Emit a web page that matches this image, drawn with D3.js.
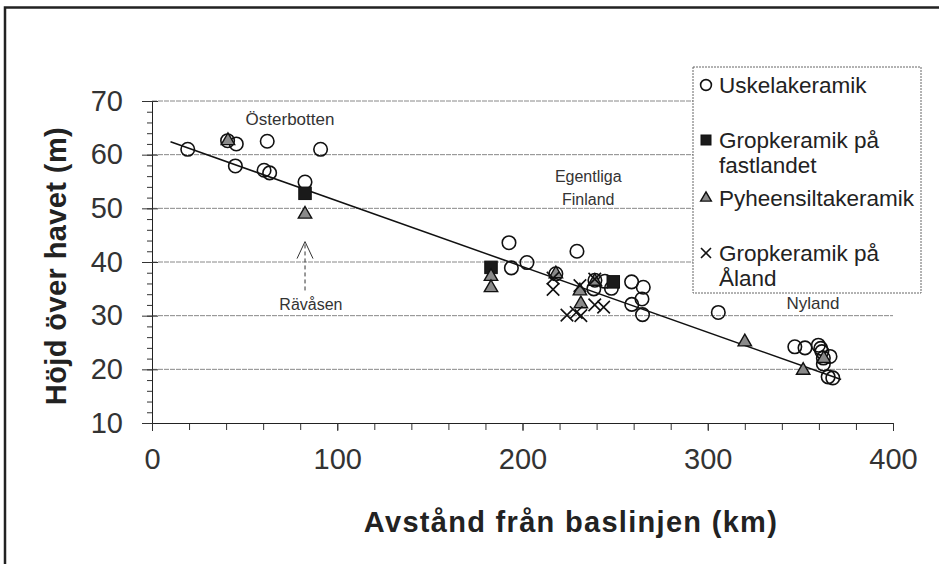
<!DOCTYPE html>
<html>
<head>
<meta charset="utf-8">
<script src="https://cdn.jsdelivr.net/npm/d3@7"></script>
<style>
  body { margin: 0; background: #fff; }
  text { font-family: "Liberation Sans", Arial, sans-serif; }
</style>
</head>
<body>
<div id="chart"></div>
<script>
// series: [avstånd km, höjd m]
var uskelaPoints = [
    [19.3, 61.0], [40.8, 62.6], [45.5, 62.0], [62.2, 62.5], [91, 61.0],
    [45, 57.9], [60.5, 57.1], [63.5, 56.6], [82.6, 54.9],
    [192.7, 43.6], [229.4, 42.0], [194, 38.9], [202.4, 39.9], [218, 37.8],
    [239.1, 36.6], [238.5, 35.0], [244.5, 36.4], [248, 35.1], [258.9, 36.3],
    [265.2, 35.3], [264.5, 33.1], [259, 32.1], [264.8, 30.2],
    [305.7, 30.6], [347, 24.2], [352.5, 24.0], [359.7, 24.5], [361, 23.9],
    [361.6, 23.3], [366, 22.4], [362.4, 22.1], [362.4, 21.0], [367.5, 18.4], [365, 18.6]
]
var gropFastlandPoints = [[82.6, 52.8], [183, 39.0], [249, 36.3]]
var pyheenPoints = [
    [41, 62.6], [82.6, 48.9], [183, 37.3], [183, 35.2], [218, 37.8], [231, 34.6],
    [231.5, 32.2], [239, 36.4], [320, 25.1], [351.5, 19.8], [362.6, 22.0]
]
var gropAlandPoints = [
    [216.5, 37.0], [216.5, 34.9], [231, 35.6], [224, 30.1], [229, 30.6],
    [231.5, 30.0], [239, 32.0], [243.8, 31.6], [239, 36.8]
]
var trendX = [10, 372]
var trendY = [62.4, 18.1]

var xTicks = [0, 100, 200, 300, 400]
var yTicks = [10, 20, 30, 40, 50, 60, 70]
var gridValues = [20, 30, 40, 50, 60, 70]

var legendLines = [
    { type: "circle", lines: ["Uskelakeramik"] },
    { type: "square", lines: ["Gropkeramik på", "fastlandet"] },
    { type: "triangle", lines: ["Pyheensiltakeramik"] },
    { type: "cross", lines: ["Gropkeramik på", "Åland"] }
]
var regionLabels = [
    { text: "Österbotten", x: 74.5, y: 65.5, anchor: "middle", size: 17 },
    { text: "Egentliga", x: 235.5, y: 54.9, anchor: "middle", size: 16 },
    { text: "Finland", x: 235.5, y: 50.6, anchor: "middle", size: 16 },
    { text: "Nyland", x: 356.8, y: 31.3, anchor: "middle", size: 17 },
    { text: "Rävåsen", x: 85.8, y: 31.05, anchor: "middle", size: 16 }
]
var arrowX = 82.6
var arrowY = [34.7, 43.8]

var svg = d3.select("#chart")
    .append("svg")
    .attr("width", 939)
    .attr("height", 564)

var x = d3.scaleLinear().domain([0, 400]).range([152, 893])
var y = d3.scaleLinear().domain([10, 70]).range([423, 101])

// outer frame
svg.append("path")
    .attr("d", "M5,570 L5,7.5 L945,7.5")
    .style("fill", "none")
    .style("stroke", "#222")
    .style("stroke-width", 2.5)

// grid
svg.append("g").selectAll("line")
    .data(gridValues)
    .enter()
    .append("line")
    .attr("x1", x(0))
    .attr("x2", x(400))
    .attr("y1", function (d) { return y(d) })
    .attr("y2", function (d) { return y(d) })
    .style("stroke", "#888")
    .style("stroke-dasharray", "5,1")

// y axis
var yAxisMinor = d3.axisLeft(y).ticks(30).tickSize(5).tickFormat("")
svg.append("g").attr("transform", "translate(152,0)").call(yAxisMinor)
var yAxis = d3.axisLeft(y).tickValues(yTicks).tickSize(10).tickPadding(19)
var yG = svg.append("g").attr("transform", "translate(152,0)").call(yAxis)
yG.selectAll(".tick line").attr("x2", -10).attr("x1", 6)
yG.selectAll("text")
    .style("font-size", "29px")
    .style("font-family", "Liberation Sans, Arial, sans-serif")
    .style("fill", "#333")

// x axis
var xAxisMinor = d3.axisBottom(x).ticks(20).tickSize(7).tickFormat("")
svg.append("g").attr("transform", "translate(0,423)").call(xAxisMinor)
var xAxis = d3.axisBottom(x).tickValues(xTicks).tickSize(8).tickPadding(17)
var xG = svg.append("g").attr("transform", "translate(0,423)").call(xAxis)
xG.selectAll("text")
    .style("font-size", "29px")
    .style("font-family", "Liberation Sans, Arial, sans-serif")
    .style("fill", "#333")

svg.selectAll(".domain").style("stroke", "#222")
svg.selectAll(".tick line").style("stroke", "#333")

// axis titles
svg.append("text")
    .attr("transform", "translate(66,266) rotate(-90)")
    .attr("text-anchor", "middle")
    .style("font-size", "29px")
    .style("font-weight", "bold")
    .style("letter-spacing", "0.4px")
    .style("fill", "#222")
    .text("Höjd över havet (m)")

svg.append("text")
    .attr("x", 571)
    .attr("y", 532)
    .attr("text-anchor", "middle")
    .style("font-size", "29px")
    .style("font-weight", "bold")
    .style("letter-spacing", "1.3px")
    .style("fill", "#222")
    .text("Avstånd från baslinjen (km)")

// trend line
svg.append("line")
    .attr("x1", x(trendX[0]))
    .attr("y1", y(trendY[0]))
    .attr("x2", x(trendX[1]))
    .attr("y2", y(trendY[1]))
    .style("stroke", "#111")
    .style("stroke-width", 1.5)

// region labels
svg.append("g").selectAll("text")
    .data(regionLabels)
    .enter()
    .append("text")
    .attr("x", function (d) { return x(d.x) })
    .attr("y", function (d) { return y(d.y) })
    .attr("text-anchor", function (d) { return d.anchor })
    .style("font-size", function (d) { return d.size + "px" })
    .style("fill", "#333")
    .text(function (d) { return d.text })

// Rävåsen arrow
svg.append("line")
    .attr("x1", x(arrowX)).attr("x2", x(arrowX))
    .attr("y1", y(arrowY[0])).attr("y2", y(arrowY[1]))
    .style("stroke", "#333")
    .style("stroke-dasharray", "4,3")
svg.append("path")
    .attr("d", "M" + (x(arrowX) - 8) + "," + (y(arrowY[1]) + 17) + " L" + x(arrowX) + "," + y(arrowY[1]) +
        " L" + (x(arrowX) + 8) + "," + (y(arrowY[1]) + 17))
    .style("fill", "none")
    .style("stroke", "#333")

// markers
function drawMarker(sel, type, s) {
    if (type === "circle") {
        sel.append("circle").attr("r", s * 0.54)
            .style("fill", "none").style("stroke", "#111").style("stroke-width", 1.6)
    } else if (type === "square") {
        sel.append("rect").attr("x", -s / 2).attr("y", -s / 2).attr("width", s).attr("height", s)
            .style("fill", "#1a1a1a").style("stroke", "#111")
    } else if (type === "triangle") {
        sel.append("path").attr("d", d3.symbol().type(d3.symbolTriangle).size(s * s * 0.5))
            .style("fill", "#8a8a8a").style("stroke", "#111").style("stroke-width", 1.4)
    } else {
        var h = s / 2
        sel.append("path").attr("d", "M" + (-h) + "," + (-h) + "L" + h + "," + h + "M" + (-h) + "," + h + "L" + h + "," + (-h))
            .style("stroke", "#111").style("stroke-width", 1.6)
    }
}

var seriesList = [
    { type: "circle", data: uskelaPoints },
    { type: "square", data: gropFastlandPoints },
    { type: "triangle", data: pyheenPoints },
    { type: "cross", data: gropAlandPoints }
]

seriesList.forEach(function (s) {
    svg.append("g").selectAll("g")
        .data(s.data)
        .enter()
        .append("g")
        .attr("transform", function (d) { return "translate(" + x(d[0]) + "," + y(d[1]) + ")" })
        .each(function () { drawMarker(d3.select(this), s.type, 12.5) })
})

// legend
var legend = svg.append("g")
legend.append("rect")
    .attr("x", 693).attr("y", 67)
    .attr("width", 228).attr("height", 226)
    .style("fill", "#fff")
    .style("stroke", "#666")
    .style("stroke-dasharray", "2,1")

var legendY = [85, 140, 198, 253]
legendLines.forEach(function (item, i) {
    var g = legend.append("g").attr("transform", "translate(706," + legendY[i] + ")")
    drawMarker(g, item.type, 10)
    item.lines.forEach(function (t, j) {
        legend.append("text")
            .attr("x", 719)
            .attr("y", legendY[i] + 8 + j * 25)
            .style("font-size", "22.5px")
            .style("fill", "#222")
            .text(t)
    })
})
</script>
</body>
</html>
